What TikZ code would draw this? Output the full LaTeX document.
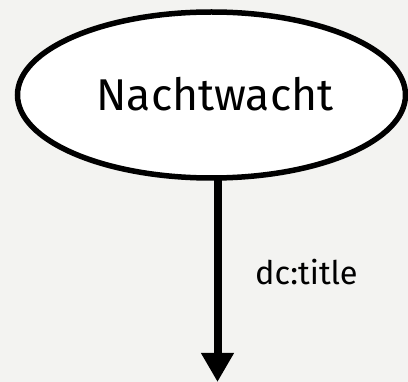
\documentclass[tikz,border=0pt]{standalone}
\usepackage{fontspec}
\setmainfont{Fira Sans}
\usetikzlibrary{shapes.geometric,arrows.meta}
\definecolor{bgc}{RGB}{243,243,241}
\tikzset{
  resource/.style={ellipse, draw=black, fill=white, line width=5.5pt,
    minimum width=388pt, minimum height=166pt, inner sep=0pt,
    font=\fontsize{44.5}{48}\selectfont},
  property/.style={line width=8pt, -{Triangle[length=29pt,width=31pt]}},
  proplabel/.style={font=\fontsize{32.5}{35}\selectfont, anchor=base west, inner sep=0pt}
}
\begin{document}
\begin{tikzpicture}[x=1pt,y=-1pt]
  \fill[bgc] (0,0) rectangle (408,382);
  \useasboundingbox (0,0) rectangle (408,382);
  \coordinate (top) at (217.5,175);
  \coordinate (tip) at (217.5,382);
  \draw[property] (top) -- (tip);
  \node[resource] (e) at (211.5,95) {\hspace*{7pt}\raisebox{2pt}{Nachtwacht}};
  \node[proplabel] (l) at (255,285) {dc:title};
\end{tikzpicture}
\end{document}
